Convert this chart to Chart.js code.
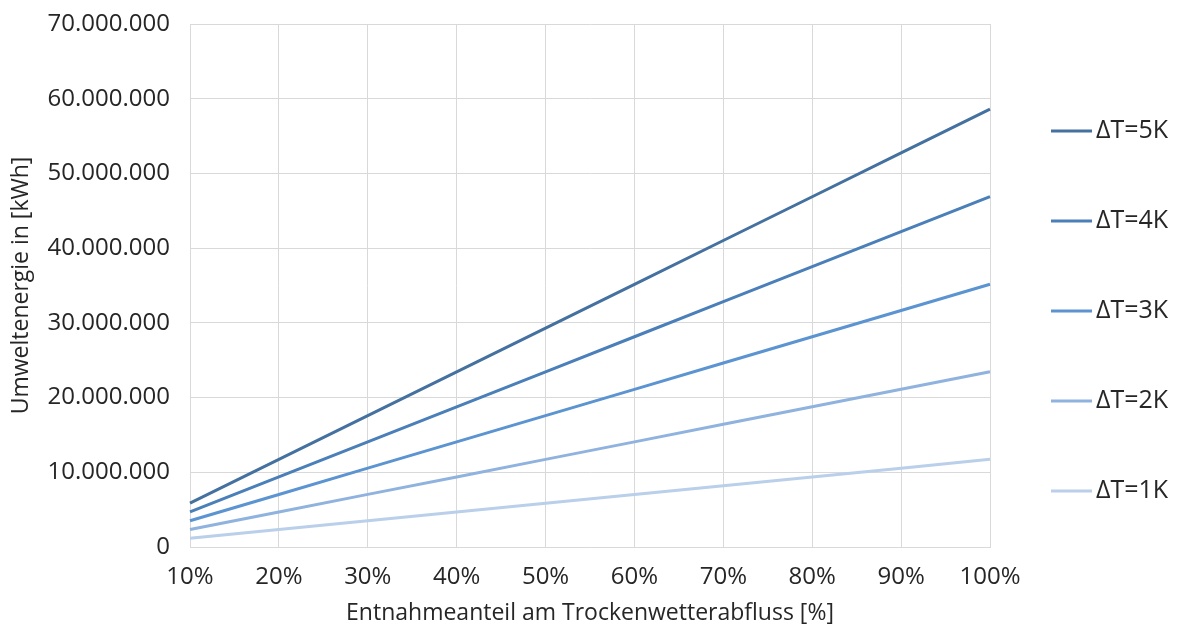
<html>
<head>
  <meta charset="UTF-8">
  <script src="https://cdn.jsdelivr.net/npm/chart.js@4.4.0/dist/chart.umd.min.js"></script>
  <style>
    body { margin: 0; background: #fff; }
    #wrap { width: 1179px; height: 629px; position: relative; }
  </style>
</head>
<body>
  <div id="wrap"><canvas id="chart"></canvas></div>
  <script>
    // Entnahmeanteil (x-Achse)
    const anteile = ['10%', '20%', '30%', '40%', '50%', '60%', '70%', '80%', '90%', '100%'];
    // Umweltenergie in Mio. kWh
    const dT5 = [5.86, 11.72, 17.58, 23.44, 29.30, 35.16, 41.02, 46.88, 52.74, 58.60];
    const dT4 = [4.69, 9.38, 14.07, 18.76, 23.45, 28.14, 32.83, 37.52, 42.21, 46.90];
    const dT3 = [3.52, 7.03, 10.55, 14.07, 17.59, 21.10, 24.62, 28.14, 31.65, 35.17];
    const dT2 = [2.35, 4.69, 7.04, 9.38, 11.73, 14.07, 16.42, 18.76, 21.11, 23.45];
    const dT1 = [1.17, 2.35, 3.52, 4.69, 5.86, 7.04, 8.21, 9.38, 10.55, 11.73];
    const serienNamen = ['ΔT=5K', 'ΔT=4K', 'ΔT=3K', 'ΔT=2K', 'ΔT=1K'];
    const farben = ['#44719f', '#4a7fb9', '#5b94d1', '#8fb3de', '#bacfea'];

    const FONT = "'Open Sans', sans-serif";
    const TEXT = '#262626';

    function punkte(z) {
      return Math.round(z).toString().replace(/\B(?=(\d{3})+(?!\d))/g, '.');
    }

    const datasets = [dT5, dT4, dT3, dT2, dT1].map((werte, i) => ({
      label: serienNamen[i],
      data: werte.map(v => v * 1e6),
      borderColor: farben[i],
      backgroundColor: farben[i],
      borderWidth: 3,
      pointRadius: 0,
      tension: 0,
      fill: false
    }));

    // eigene Legende rechts neben dem Diagramm
    const legendePlugin = {
      id: 'legende',
      afterDraw(chart) {
        const ctx = chart.ctx;
        const a = chart.chartArea;
        ctx.save();
        ctx.font = '25px ' + FONT;
        ctx.textBaseline = 'middle';
        chart.data.datasets.forEach((ds, i) => {
          const y = a.top + 107 + i * 90;
          const x = a.right + 61;
          ctx.strokeStyle = ds.borderColor;
          ctx.lineWidth = 3;
          ctx.beginPath();
          ctx.moveTo(x, y);
          ctx.lineTo(x + 41, y);
          ctx.stroke();
          ctx.fillStyle = TEXT;
          ctx.fillText(ds.label, x + 45, y);
        });
        ctx.restore();
      }
    };

    const ctx = document.getElementById('chart').getContext('2d');
    new Chart(ctx, {
      type: 'line',
      data: { labels: anteile, datasets: datasets },
      plugins: [legendePlugin],
      options: {
        responsive: true,
        maintainAspectRatio: false,
        animation: false,
        layout: { padding: { top: 24, right: 189, bottom: 0, left: 0 } },
        plugins: { legend: { display: false }, tooltip: { enabled: false } },
        scales: {
          x: {
            offset: false,
            grid: { color: '#d9d9d9', lineWidth: 1, drawTicks: false },
            border: { color: '#d9d9d9' },
            ticks: { color: TEXT, font: { family: FONT, size: 24 }, padding: 16, maxRotation: 0 },
            title: {
              display: true,
              text: 'Entnahmeanteil am Trockenwetterabfluss [%]',
              color: TEXT,
              font: { family: FONT, size: 23 },
              padding: { top: 2, bottom: 2 }
            },
            afterFit(s) { s.height = 82; }
          },
          y: {
            min: 0,
            max: 70000000,
            grid: { color: '#d9d9d9', lineWidth: 1, drawTicks: false },
            border: { color: '#d9d9d9' },
            ticks: {
              stepSize: 10000000,
              color: TEXT,
              font: { family: FONT, size: 24 },
              padding: 20,
              callback: v => punkte(v)
            },
            title: {
              display: true,
              text: 'Umweltenergie in [kWh]',
              color: TEXT,
              font: { family: FONT, size: 23 },
              padding: { top: 8, bottom: 4 }
            },
            afterFit(s) { s.width = 190; s.paddingTop = 0; s.paddingBottom = 0; }
          }
        }
      }
    });
  </script>
</body>
</html>
